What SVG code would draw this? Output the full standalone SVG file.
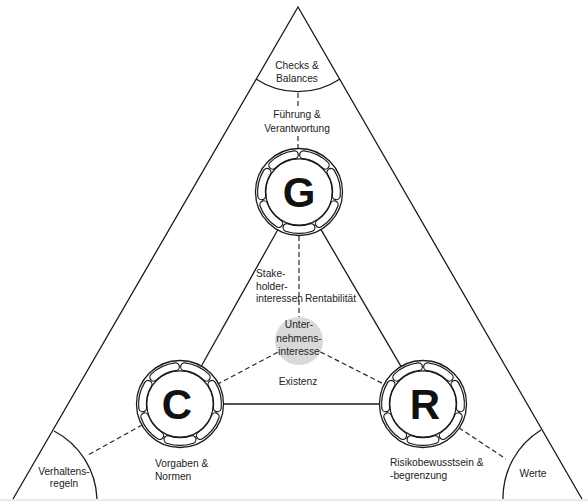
<svg xmlns="http://www.w3.org/2000/svg" xmlns:xlink="http://www.w3.org/1999/xlink" width="588" height="501" viewBox="0 0 588 501">
<style>
.edge{fill:none;stroke:#1a1a1a;stroke-width:1.3}
.dash{fill:none;stroke:#2a2a2a;stroke-width:1.2;stroke-dasharray:5 3}
.lbl{font-family:"Liberation Sans",Arial,sans-serif;font-size:10.2px;fill:#222}
.mid{text-anchor:middle}
.big{font-family:"Liberation Sans",Arial,sans-serif;font-weight:bold;font-size:42px;fill:#111;text-anchor:middle}
.cap{fill:none;stroke:#1a1a1a;stroke-width:9;stroke-linecap:round}
.capin{fill:none;stroke:#fff;stroke-width:6.6;stroke-linecap:round}
</style>
<defs>
<g id="ringshape">
<circle r="43.5" fill="#fff" stroke="#1a1a1a" stroke-width="1.3"/>
<path d="M4.57,-37.22A37.5,37.5 0 0 1 26.25,-26.78M31.95,-19.64A37.5,37.5 0 0 1 37.3,3.83M35.27,12.74A37.5,37.5 0 0 1 20.27,31.55M12.03,35.52A37.5,37.5 0 0 1 -12.03,35.52M-20.27,31.55A37.5,37.5 0 0 1 -35.27,12.74M-37.3,3.83A37.5,37.5 0 0 1 -31.95,-19.64M-26.25,-26.78A37.5,37.5 0 0 1 -4.57,-37.22" class="cap"/>
<path d="M4.57,-37.22A37.5,37.5 0 0 1 26.25,-26.78M31.95,-19.64A37.5,37.5 0 0 1 37.3,3.83M35.27,12.74A37.5,37.5 0 0 1 20.27,31.55M12.03,35.52A37.5,37.5 0 0 1 -12.03,35.52M-20.27,31.55A37.5,37.5 0 0 1 -35.27,12.74M-37.3,3.83A37.5,37.5 0 0 1 -31.95,-19.64M-26.25,-26.78A37.5,37.5 0 0 1 -4.57,-37.22" class="capin"/>
<circle r="33.2" fill="none" stroke="#1a1a1a" stroke-width="1.2"/>
</g>
</defs>
<rect width="588" height="501" fill="#fff"/>
<g id="frame">
<path class="edge" d="M13,499 L298,7 L582,499"/>
<line x1="0" y1="500" x2="588" y2="500" stroke="#d4d4d4" stroke-width="1"/>
<path class="edge" d="M256,79 A76,76 0 0 0 340,79"/>
<path class="edge" d="M54,431 A80,80 0 0 1 97,499"/>
<path class="edge" d="M541,430 A80,80 0 0 0 503,499"/>
</g>
<g id="connectors">
<line class="edge" x1="277.9" y1="229.5" x2="201.1" y2="366.5"/>
<line class="edge" x1="320.7" y1="229.1" x2="401.3" y2="366.9"/>
<line class="edge" x1="223" y1="404" x2="380" y2="404"/>
<line class="dash" x1="298" y1="93" x2="298" y2="107"/>
<line class="dash" x1="298" y1="136" x2="298" y2="148"/>
<line class="dash" x1="299" y1="236" x2="299" y2="317"/>
<line class="dash" x1="277.8" y1="352.2" x2="218" y2="383.9"/>
<line class="dash" x1="320.4" y1="351.9" x2="384.6" y2="384.5"/>
<line class="dash" x1="142.3" y1="424.9" x2="88" y2="455"/>
<line class="dash" x1="458.8" y1="427.7" x2="506" y2="459"/>
</g>
<g id="checks">
<text class="lbl mid" x="297" y="69">Checks &amp;</text>
<text class="lbl mid" x="297" y="82">Balances</text>
</g>
<g id="fuehrung">
<text class="lbl mid" x="297" y="118">Führung &amp;</text>
<text class="lbl mid" x="297" y="132">Verantwortung</text>
</g>
<g id="nodeG">
<use xlink:href="#ringshape" href="#ringshape" x="299" y="192"/>
<text class="big" x="299" y="207">G</text>
</g>
<g id="nodeC">
<use xlink:href="#ringshape" href="#ringshape" x="180" y="404"/>
<text class="big" x="177" y="419">C</text>
</g>
<g id="nodeR">
<use xlink:href="#ringshape" href="#ringshape" x="423" y="404"/>
<text class="big" x="425" y="419">R</text>
</g>
<g id="stakeholder">
<text class="lbl" x="256" y="277">Stake-</text>
<text class="lbl" x="256" y="290">holder-</text>
<text class="lbl" x="256" y="302">interessen</text>
</g>
<g id="rentabilitaet">
<text class="lbl" x="305" y="302">Rentabilität</text>
</g>
<g id="unternehmensinteresse">
<circle cx="299" cy="341" r="24" fill="#d9d9d9"/>
<text class="lbl mid" x="299" y="328">Unter-</text>
<text class="lbl mid" x="299" y="342">nehmens-</text>
<text class="lbl mid" x="299" y="355">interesse</text>
</g>
<g id="existenz">
<text class="lbl mid" x="298" y="385">Existenz</text>
</g>
<g id="vorgaben">
<text class="lbl" x="155" y="467">Vorgaben &amp;</text>
<text class="lbl" x="155" y="480">Normen</text>
</g>
<g id="risiko">
<text class="lbl" x="390" y="466">Risikobewusstsein &amp;</text>
<text class="lbl" x="390" y="479">-begrenzung</text>
</g>
<g id="verhaltensregeln">
<text class="lbl mid" x="64" y="475">Verhaltens-</text>
<text class="lbl mid" x="64" y="487">regeln</text>
</g>
<g id="werte">
<text class="lbl mid" x="533" y="477">Werte</text>
</g>
</svg>
